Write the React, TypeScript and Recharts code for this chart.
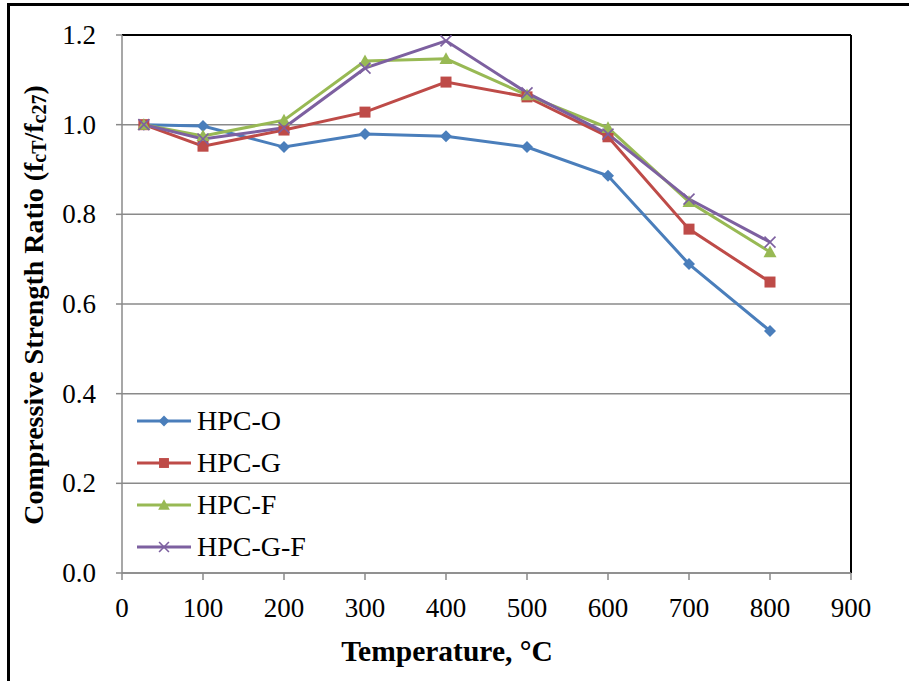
import { LineChart, Line, XAxis, YAxis, CartesianGrid, ReferenceLine, Label } from 'recharts'

const temperatures = [27, 100, 200, 300, 400, 500, 600, 700, 800]
const hpcO = [1.0, 0.997, 0.95, 0.979, 0.974, 0.95, 0.886, 0.689, 0.54]
const hpcG = [1.0, 0.952, 0.988, 1.028, 1.095, 1.062, 0.973, 0.767, 0.649]
const hpcF = [1.0, 0.975, 1.01, 1.142, 1.147, 1.066, 0.993, 0.828, 0.716]
const hpcGF = [1.0, 0.968, 0.993, 1.126, 1.187, 1.071, 0.979, 0.834, 0.738]
const xTicks = [0, 100, 200, 300, 400, 500, 600, 700, 800, 900]
const yTicks = [0, 0.2, 0.4, 0.6, 0.8, 1.0, 1.2]

const SERIES = [
  { key: 'o', name: 'HPC-O', color: '#4A7EBB', shape: 'diamond' },
  { key: 'g', name: 'HPC-G', color: '#BE4B48', shape: 'square' },
  { key: 'f', name: 'HPC-F', color: '#98B954', shape: 'triangle' },
  { key: 'gf', name: 'HPC-G-F', color: '#7D60A0', shape: 'cross' },
]

const data = temperatures.map((t, i) => ({ t, o: hpcO[i], g: hpcG[i], f: hpcF[i], gf: hpcGF[i] }))

const FONT = '"Liberation Serif", "Times New Roman", serif'

function Marker({ cx, cy, shape, color, s = 1 }: any) {
  if (cx == null || cy == null) return null
  if (shape === 'diamond') {
    const r = 6 * s
    return <polygon points={`${cx},${cy - r} ${cx + r},${cy} ${cx},${cy + r} ${cx - r},${cy}`} fill={color} />
  }
  if (shape === 'square') {
    const r = 5.5 * s
    return <rect x={cx - r} y={cy - r} width={2 * r} height={2 * r} fill={color} />
  }
  if (shape === 'triangle') {
    const r = 6.5 * s
    return <polygon points={`${cx},${cy - r} ${cx + r},${cy + r * 0.8} ${cx - r},${cy + r * 0.8}`} fill={color} />
  }
  const r = 5.5 * s
  return (
    <g stroke={color} strokeWidth={1.6}>
      <line x1={cx - r} y1={cy - r} x2={cx + r} y2={cy + r} />
      <line x1={cx - r} y1={cy + r} x2={cx + r} y2={cy - r} />
    </g>
  )
}

function XTick({ x, y, payload }: any) {
  return (
    <text x={x} y={y + 37} textAnchor="middle" fontFamily={FONT} fontSize={27} fill="#000">
      {payload.value}
    </text>
  )
}

function YTick({ x, y, payload }: any) {
  return (
    <text x={x} y={y + 9} textAnchor="end" fontFamily={FONT} fontSize={27} fill="#000">
      {Number(payload.value).toFixed(1)}
    </text>
  )
}

function LegendBox() {
  return (
    <div style={{ position: 'absolute', left: 136, top: 400, fontFamily: FONT, fontSize: 28, color: '#000', lineHeight: 1 }}>
      {SERIES.map(s => (
        <div key={s.key} style={{ display: 'flex', alignItems: 'center', height: 42 }}>
          <svg width={56} height={20} style={{ marginRight: 5 }}>
            <line x1={1} y1={10} x2={55} y2={10} stroke={s.color} strokeWidth={3} />
            <Marker cx={28} cy={10} shape={s.shape} color={s.color} s={0.9} />
          </svg>
          <span>{s.name}</span>
        </div>
      ))}
    </div>
  )
}

function YTitle() {
  const cx = 33
  const cy = 305
  return (
    <text
      x={cx}
      y={cy}
      transform={`rotate(-90 ${cx} ${cy})`}
      textAnchor="middle"
      dominantBaseline="central"
      fontFamily={FONT}
      fontWeight="bold"
      fontSize={28}
      fill="#000"
    >
      Compressive Strength  Ratio (f
      <tspan fontSize={20} dy={6}>cT</tspan>
      <tspan dy={-6}>/f</tspan>
      <tspan fontSize={20} dy={6}>c27</tspan>
      <tspan dy={-6}>)</tspan>
    </text>
  )
}

function XTitle() {
  return (
    <text x={447} y={651} textAnchor="middle" dominantBaseline="central" fontFamily={FONT} fontWeight="bold" fontSize={29.5} fill="#000">
      Temperature, °C
    </text>
  )
}

export default function App() {
  return (
    <div style={{ position: 'absolute', left: 0, top: 0, width: 909, height: 681, background: '#fff', overflow: 'hidden' }}>
      <div style={{ position: 'absolute', left: 7, top: 3, width: 940, height: 720, border: '3px solid #000', boxSizing: 'border-box' }} />
      <div style={{ position: 'absolute', left: 0, top: 0 }}>
        <LineChart width={909} height={681} data={data} margin={{ top: 35, right: 58, left: 62, bottom: 28 }}>
          <CartesianGrid vertical={false} stroke="#8a8a8a" strokeWidth={1.5} />
          <XAxis
            dataKey="t"
            type="number"
            domain={[0, 900]}
            ticks={xTicks}
            interval={0}
            height={80}
            stroke="#8a8a8a"
            strokeWidth={1.5}
            tickSize={7}
            tick={<XTick />}
            tickMargin={0}
          >
            <Label content={<XTitle />} />
          </XAxis>
          <YAxis
            type="number"
            domain={[0, 1.2]}
            ticks={yTicks}
            interval={0}
            width={60}
            stroke="#8a8a8a"
            strokeWidth={1.5}
            tickSize={6}
            tick={<YTick />}
            tickMargin={20}
          >
            <Label content={<YTitle />} />
          </YAxis>
          <ReferenceLine y={1.2} stroke="#000" strokeWidth={2} />
          <ReferenceLine x={900} stroke="#000" strokeWidth={2} />
          {SERIES.map(s => (
            <Line
              key={s.key}
              dataKey={s.key}
              name={s.name}
              stroke={s.color}
              strokeWidth={3}
              isAnimationActive={false}
              dot={(p: any) => <Marker key={`${s.key}-${p.index}`} cx={p.cx} cy={p.cy} shape={s.shape} color={s.color} />}
              activeDot={false}
            />
          ))}
        </LineChart>
      </div>
      <LegendBox />
    </div>
  )
}
